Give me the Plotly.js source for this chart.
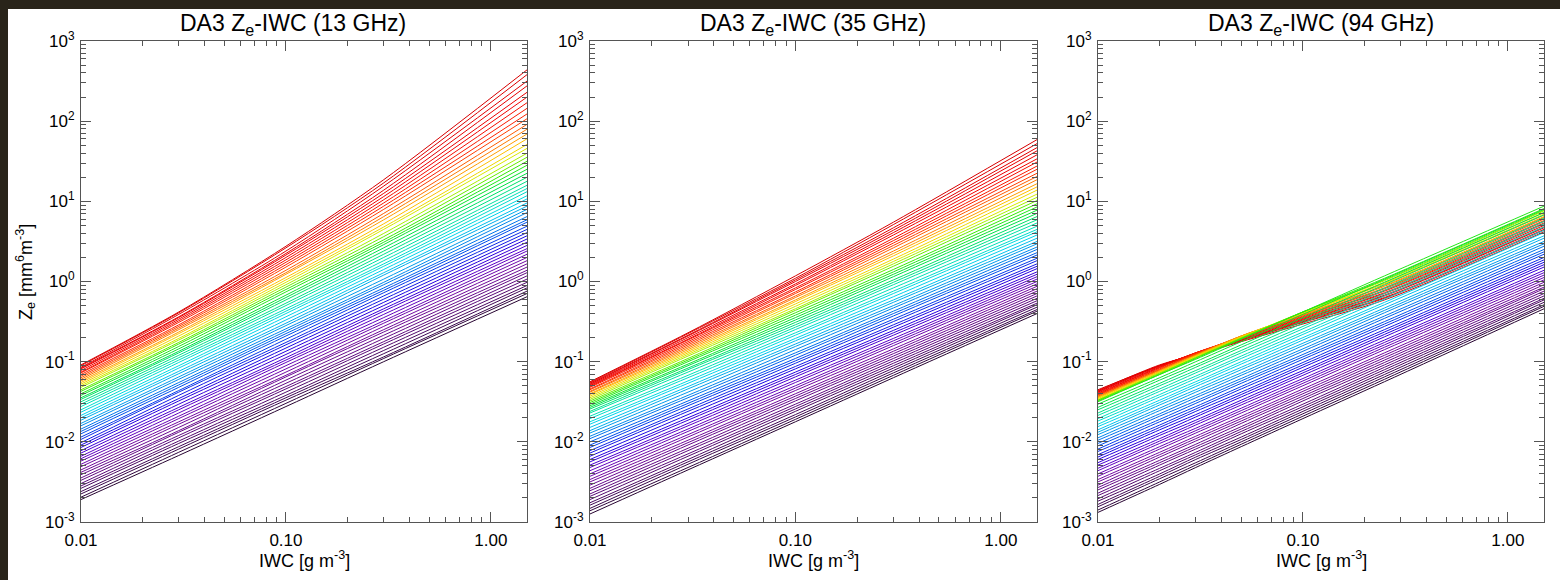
<!DOCTYPE html>
<html><head><meta charset="utf-8">
<script src="https://cdn.plot.ly/plotly-3.0.1.min.js"></script>
<style>
html,body{margin:0;padding:0;background:#29241a;width:1560px;height:580px;overflow:hidden}
#chart{position:absolute;left:8px;top:9px;width:1552px;height:571px;background:#fff}
</style></head><body><div id="chart"></div>
<script>
// IWC nodes [g m-3] at which each curve was read
const iwcNodes = [0.01, 0.03, 0.1, 0.3, 1.5];          // 13 and 35 GHz
const iwcNodes94 = [0.01, 0.02, 0.03, 0.05, 0.1, 0.25, 1.5]; // 94 GHz
const panelTitles = ['DA3 Z<sub>e</sub>-IWC (13 GHz)', 'DA3 Z<sub>e</sub>-IWC (35 GHz)', 'DA3 Z<sub>e</sub>-IWC (94 GHz)'];
const xTickVals = [0.01, 0.1, 1];
const xTickText = ['0.01', '0.10', '1.00'];
const yTickVals = [1e-3, 1e-2, 1e-1, 1, 10, 100, 1000];
const yTickText = ['10<sup>-3</sup>', '10<sup>-2</sup>', '10<sup>-1</sup>', '10<sup>0</sup>', '10<sup>1</sup>', '10<sup>2</sup>', '10<sup>3</sup>'];
const xTitle = 'IWC [g m<sup>-3</sup>]';
const yTitle = 'Z<sub>e</sub> [mm<sup>6</sup>m<sup>-3</sup>]';

// log10(Ze) of each curve (bottom/dark -> top/red), per IWC node
// 13 GHz
const ze13_at001 = [-2.72,-2.69,-2.65,-2.62,-2.58,-2.55,-2.52,-2.48,-2.45,-2.41,-2.38,-2.35,-2.31,-2.28,-2.24,-2.21,-2.18,-2.14,-2.11,-2.07,-2.04,-2.01,-1.97,-1.94,-1.90,-1.87,-1.84,-1.80,-1.77,-1.73,-1.70,-1.67,-1.63,-1.60,-1.56,-1.53,-1.50,-1.47,-1.45,-1.42,-1.40,-1.37,-1.35,-1.32,-1.30,-1.28,-1.26,-1.24,-1.22,-1.20,-1.18,-1.16,-1.14,-1.13,-1.11,-1.09,-1.08,-1.07,-1.05,-1.04];
const ze13_at003 = [-2.17,-2.13,-2.09,-2.06,-2.02,-1.99,-1.95,-1.92,-1.88,-1.86,-1.82,-1.78,-1.75,-1.71,-1.68,-1.64,-1.60,-1.57,-1.53,-1.49,-1.46,-1.42,-1.38,-1.36,-1.32,-1.29,-1.26,-1.22,-1.19,-1.15,-1.12,-1.08,-1.05,-1.01,-0.98,-0.95,-0.92,-0.89,-0.87,-0.84,-0.81,-0.78,-0.76,-0.73,-0.71,-0.68,-0.65,-0.63,-0.60,-0.58,-0.56,-0.54,-0.51,-0.49,-0.47,-0.45,-0.44,-0.41,-0.39,-0.38];
const ze13_at01 = [-1.56,-1.52,-1.48,-1.45,-1.42,-1.38,-1.34,-1.31,-1.27,-1.23,-1.19,-1.17,-1.13,-1.09,-1.05,-1.01,-0.98,-0.95,-0.91,-0.87,-0.83,-0.79,-0.76,-0.72,-0.68,-0.65,-0.62,-0.59,-0.55,-0.52,-0.48,-0.44,-0.40,-0.37,-0.34,-0.30,-0.27,-0.23,-0.20,-0.17,-0.13,-0.10,-0.07,-0.04,-0.01,0.02,0.05,0.09,0.11,0.14,0.18,0.21,0.24,0.27,0.30,0.33,0.35,0.38,0.42,0.44];
const ze13_at03 = [-1.00,-0.96,-0.94,-0.90,-0.86,-0.82,-0.78,-0.75,-0.71,-0.67,-0.63,-0.60,-0.56,-0.52,-0.49,-0.45,-0.41,-0.37,-0.34,-0.30,-0.26,-0.22,-0.18,-0.14,-0.11,-0.08,-0.04,-0.01,0.03,0.08,0.11,0.15,0.19,0.22,0.26,0.30,0.34,0.38,0.42,0.46,0.49,0.52,0.56,0.60,0.65,0.68,0.72,0.77,0.81,0.85,0.90,0.94,0.98,1.02,1.06,1.10,1.14,1.19,1.23,1.27];
const ze13_at15 = [-0.19,-0.15,-0.12,-0.08,-0.05,-0.01,0.03,0.07,0.11,0.14,0.18,0.22,0.26,0.30,0.34,0.38,0.41,0.45,0.49,0.53,0.57,0.61,0.65,0.69,0.74,0.77,0.81,0.86,0.90,0.94,0.98,1.03,1.07,1.12,1.16,1.20,1.25,1.30,1.35,1.40,1.45,1.50,1.55,1.60,1.66,1.71,1.78,1.84,1.90,1.96,2.03,2.09,2.16,2.23,2.30,2.36,2.44,2.50,2.58,2.64];
// 35 GHz
const ze35_at001 = [-2.90,-2.86,-2.83,-2.79,-2.76,-2.72,-2.68,-2.65,-2.61,-2.58,-2.54,-2.50,-2.47,-2.43,-2.40,-2.36,-2.32,-2.29,-2.25,-2.22,-2.18,-2.14,-2.11,-2.07,-2.04,-2.00,-1.96,-1.93,-1.89,-1.86,-1.82,-1.78,-1.75,-1.71,-1.68,-1.64,-1.62,-1.59,-1.57,-1.55,-1.53,-1.51,-1.49,-1.47,-1.45,-1.43,-1.41,-1.40,-1.38,-1.37,-1.35,-1.34,-1.32,-1.31,-1.30,-1.29,-1.28,-1.27,-1.26,-1.25];
const ze35_at003 = [-2.35,-2.32,-2.28,-2.25,-2.22,-2.18,-2.15,-2.11,-2.08,-2.04,-2.01,-1.98,-1.94,-1.91,-1.87,-1.84,-1.80,-1.77,-1.73,-1.70,-1.66,-1.62,-1.59,-1.55,-1.52,-1.49,-1.45,-1.42,-1.38,-1.34,-1.31,-1.27,-1.24,-1.20,-1.17,-1.13,-1.10,-1.08,-1.05,-1.03,-1.00,-0.98,-0.96,-0.93,-0.91,-0.89,-0.87,-0.85,-0.83,-0.81,-0.79,-0.77,-0.75,-0.73,-0.72,-0.70,-0.68,-0.67,-0.65,-0.64];
const ze35_at01 = [-1.75,-1.72,-1.69,-1.66,-1.62,-1.59,-1.56,-1.53,-1.49,-1.46,-1.43,-1.40,-1.36,-1.33,-1.30,-1.26,-1.23,-1.19,-1.16,-1.13,-1.09,-1.06,-1.02,-0.99,-0.96,-0.92,-0.89,-0.85,-0.81,-0.78,-0.74,-0.71,-0.67,-0.64,-0.60,-0.57,-0.54,-0.51,-0.48,-0.45,-0.42,-0.39,-0.36,-0.34,-0.31,-0.28,-0.25,-0.23,-0.20,-0.18,-0.15,-0.13,-0.10,-0.08,-0.05,-0.03,0.00,0.02,0.04,0.07];
const ze35_at03 = [-1.20,-1.17,-1.14,-1.11,-1.08,-1.05,-1.02,-0.99,-0.96,-0.93,-0.90,-0.87,-0.84,-0.80,-0.77,-0.74,-0.71,-0.67,-0.64,-0.61,-0.57,-0.54,-0.50,-0.47,-0.43,-0.40,-0.37,-0.33,-0.30,-0.26,-0.23,-0.19,-0.15,-0.12,-0.08,-0.04,-0.01,0.02,0.06,0.09,0.12,0.15,0.19,0.22,0.25,0.28,0.32,0.35,0.38,0.42,0.45,0.48,0.51,0.54,0.58,0.61,0.64,0.67,0.71,0.74];
const ze35_at15 = [-0.40,-0.37,-0.35,-0.32,-0.29,-0.27,-0.24,-0.21,-0.18,-0.15,-0.12,-0.09,-0.06,-0.03,0.00,0.03,0.06,0.09,0.12,0.16,0.19,0.22,0.26,0.29,0.33,0.36,0.40,0.43,0.47,0.50,0.54,0.58,0.62,0.65,0.69,0.73,0.77,0.81,0.85,0.89,0.93,0.97,1.01,1.05,1.09,1.14,1.18,1.22,1.27,1.31,1.35,1.40,1.44,1.49,1.53,1.58,1.63,1.67,1.72,1.77];
// 94 GHz
const ze94_at001 = [-2.88,-2.85,-2.81,-2.78,-2.74,-2.71,-2.67,-2.64,-2.60,-2.57,-2.54,-2.50,-2.47,-2.43,-2.40,-2.36,-2.33,-2.29,-2.26,-2.22,-2.19,-2.16,-2.12,-2.09,-2.05,-2.02,-1.98,-1.95,-1.91,-1.88,-1.85,-1.81,-1.78,-1.74,-1.71,-1.67,-1.64,-1.60,-1.57,-1.53,-1.50,-1.49,-1.48,-1.48,-1.47,-1.46,-1.45,-1.44,-1.44,-1.43,-1.42,-1.41,-1.41,-1.40,-1.39,-1.38,-1.37,-1.37,-1.36,-1.35];
const ze94_at002 = [-2.53,-2.50,-2.46,-2.43,-2.40,-2.36,-2.33,-2.29,-2.26,-2.23,-2.19,-2.16,-2.13,-2.09,-2.06,-2.02,-1.99,-1.96,-1.92,-1.89,-1.85,-1.82,-1.79,-1.75,-1.72,-1.68,-1.65,-1.61,-1.58,-1.54,-1.51,-1.48,-1.44,-1.41,-1.37,-1.34,-1.30,-1.27,-1.23,-1.20,-1.16,-1.16,-1.15,-1.14,-1.14,-1.13,-1.12,-1.12,-1.11,-1.10,-1.10,-1.09,-1.08,-1.07,-1.07,-1.06,-1.05,-1.05,-1.04,-1.05];
const ze94_at003 = [-2.32,-2.29,-2.26,-2.22,-2.19,-2.16,-2.13,-2.09,-2.06,-2.03,-1.99,-1.96,-1.93,-1.89,-1.86,-1.83,-1.79,-1.76,-1.73,-1.69,-1.66,-1.62,-1.59,-1.56,-1.52,-1.49,-1.45,-1.42,-1.38,-1.35,-1.31,-1.28,-1.25,-1.21,-1.18,-1.14,-1.11,-1.07,-1.04,-1.00,-0.97,-0.96,-0.95,-0.95,-0.94,-0.93,-0.93,-0.92,-0.92,-0.91,-0.90,-0.90,-0.89,-0.89,-0.89,-0.89,-0.90,-0.90,-0.91,-0.92];
const ze94_at005 = [-2.06,-2.03,-2.00,-1.97,-1.94,-1.90,-1.87,-1.84,-1.81,-1.77,-1.74,-1.71,-1.68,-1.64,-1.61,-1.58,-1.54,-1.51,-1.48,-1.44,-1.41,-1.38,-1.34,-1.31,-1.27,-1.24,-1.21,-1.17,-1.14,-1.10,-1.07,-1.03,-1.00,-0.96,-0.93,-0.89,-0.86,-0.82,-0.79,-0.75,-0.72,-0.71,-0.71,-0.70,-0.70,-0.69,-0.69,-0.68,-0.68,-0.68,-0.69,-0.69,-0.70,-0.70,-0.71,-0.72,-0.73,-0.73,-0.74,-0.75];
const ze94_at01 = [-1.71,-1.68,-1.65,-1.62,-1.59,-1.56,-1.53,-1.49,-1.46,-1.43,-1.40,-1.37,-1.34,-1.30,-1.27,-1.24,-1.21,-1.17,-1.14,-1.11,-1.07,-1.04,-1.01,-0.97,-0.94,-0.91,-0.87,-0.84,-0.80,-0.77,-0.73,-0.70,-0.66,-0.63,-0.59,-0.56,-0.52,-0.49,-0.45,-0.41,-0.38,-0.38,-0.38,-0.38,-0.39,-0.39,-0.40,-0.41,-0.41,-0.42,-0.43,-0.44,-0.45,-0.46,-0.47,-0.48,-0.49,-0.50,-0.51,-0.53];
const ze94_at025 = [-1.25,-1.22,-1.19,-1.16,-1.13,-1.10,-1.07,-1.04,-1.01,-0.98,-0.95,-0.92,-0.89,-0.85,-0.82,-0.79,-0.76,-0.73,-0.69,-0.66,-0.63,-0.60,-0.56,-0.53,-0.50,-0.46,-0.43,-0.39,-0.36,-0.33,-0.29,-0.26,-0.22,-0.18,-0.15,-0.11,-0.08,-0.04,-0.01,0.03,0.07,0.04,0.02,0.01,-0.01,-0.02,-0.03,-0.05,-0.06,-0.08,-0.09,-0.11,-0.12,-0.14,-0.15,-0.17,-0.18,-0.20,-0.21,-0.23];
const ze94_at15 = [-0.34,-0.31,-0.29,-0.26,-0.23,-0.21,-0.18,-0.15,-0.12,-0.09,-0.07,-0.04,-0.01,0.02,0.05,0.08,0.11,0.14,0.18,0.21,0.24,0.27,0.30,0.34,0.37,0.40,0.44,0.47,0.50,0.54,0.57,0.61,0.64,0.68,0.72,0.75,0.79,0.83,0.86,0.90,0.94,0.91,0.89,0.88,0.86,0.84,0.83,0.81,0.80,0.78,0.76,0.75,0.73,0.72,0.70,0.68,0.67,0.65,0.64,0.62];

const panels = [
  { nodes: iwcNodes,   cols: [ze13_at001, ze13_at003, ze13_at01, ze13_at03, ze13_at15] },
  { nodes: iwcNodes,   cols: [ze35_at001, ze35_at003, ze35_at01, ze35_at03, ze35_at15] },
  { nodes: iwcNodes94, cols: [ze94_at001, ze94_at002, ze94_at003, ze94_at005, ze94_at01, ze94_at025, ze94_at15] }
];

// rainbow colour table (dark purple -> red)
const stops = [
  [0.00,[40,5,50]],[0.10,[90,10,120]],[0.20,[115,10,160]],[0.27,[90,0,200]],
  [0.33,[30,0,225]],[0.40,[0,70,235]],[0.47,[0,150,235]],[0.53,[0,215,235]],
  [0.59,[0,225,170]],[0.65,[0,225,60]],[0.70,[60,235,0]],[0.74,[210,240,0]],
  [0.775,[255,200,0]],[0.815,[255,120,0]],[0.86,[255,40,0]],[0.92,[240,0,0]],[1.00,[215,0,0]]
];
function rainbow(t){
  for(let i=1;i<stops.length;i++){
    if(t<=stops[i][0]){
      const a=stops[i-1], b=stops[i], f=(t-a[0])/(b[0]-a[0]);
      const c=a[1].map((v,j)=>Math.round(v+(b[1][j]-v)*f));
      return 'rgb('+c.join(',')+')';
    }
  }
  return 'rgb(215,0,0)';
}

// curves are drawn from the top (red) curve down to the bottom (dark) curve
const traces = [];
panels.forEach((panel, p) => {
  const cols = panel.cols;
  const n = cols[0].length;
  for (let k = n - 1; k >= 0; k--) {
    traces.push({
      type: 'scatter', mode: 'lines',
      x: panel.nodes,
      y: cols.map(c => Math.pow(10, c[k])),
      xaxis: p === 0 ? 'x' : 'x' + (p + 1),
      yaxis: p === 0 ? 'y' : 'y' + (p + 1),
      line: { color: rainbow(k / (n - 1)), width: 1, shape: 'spline', smoothing: 0.8 },
      hoverinfo: 'skip', showlegend: false
    });
  }
});

const FONT = 'Liberation Sans, Arial, Helvetica, sans-serif';
const AX = '#555';
const xMinor = [0.02,0.03,0.04,0.05,0.06,0.07,0.08,0.09,0.2,0.3,0.4,0.5,0.6,0.7,0.8,0.9];
const yMinor = [];
for (let d = -3; d < 3; d++) for (let m = 2; m <= 9; m++) yMinor.push(m * Math.pow(10, d));

const W = 1552, H = 571;
const xDomains = [[73/W, 519/W], [582/W, 1029/W], [1090/W, 1536/W]];
const yDomain = [1 - 513/H, 1 - 32/H];
const titleX = [285/W, 805/W, 1313/W];

function xAxis(i){
  return {
    type: 'log', domain: xDomains[i], anchor: i === 0 ? 'y' : 'y' + (i + 1),
    range: [-2, Math.log10(1.5)],
    tickmode: 'array', tickvals: xTickVals, ticktext: xTickText,
    ticks: 'inside', ticklen: 10, tickwidth: 1, tickcolor: AX,
    showline: true, linecolor: AX, linewidth: 1, mirror: 'allticks',
    showgrid: false, zeroline: false, ticklabelstandoff: 3,
    tickfont: { family: FONT, size: 17, color: '#000' },
    minor: { tickmode: 'array', tickvals: xMinor, ticks: 'inside', ticklen: 5, tickwidth: 1, tickcolor: AX, showgrid: false },
    fixedrange: true
  };
}
function yAxis(i){
  return {
    type: 'log', domain: yDomain, anchor: i === 0 ? 'x' : 'x' + (i + 1),
    range: [-3, 3],
    tickmode: 'array', tickvals: yTickVals, ticktext: yTickText,
    ticks: 'inside', ticklen: 10, tickwidth: 1, tickcolor: AX,
    showline: true, linecolor: AX, linewidth: 1, mirror: 'allticks',
    showgrid: false, zeroline: false, ticklabelstandoff: 2,
    tickfont: { family: FONT, size: 17, color: '#000' },
    minor: { tickmode: 'array', tickvals: yMinor, ticks: 'inside', ticklen: 5, tickwidth: 1, tickcolor: AX, showgrid: false },
    fixedrange: true
  };
}

const annotations = [];
xDomains.forEach((d, i) => {
  const cx = (d[0] + d[1]) / 2;
  annotations.push({ xref: 'paper', yref: 'paper', x: titleX[i], y: 1 - 15/H, xanchor: 'center', yanchor: 'middle',
    text: panelTitles[i], showarrow: false, font: { family: FONT, size: 23, color: '#000' } });
  annotations.push({ xref: 'paper', yref: 'paper', x: cx, y: 1 - 550/H, xanchor: 'center', yanchor: 'middle',
    text: xTitle, showarrow: false, font: { family: FONT, size: 18, color: '#000' } });
});
annotations.push({ xref: 'paper', yref: 'paper', x: 17/W, y: 1 - 263/H, xanchor: 'center', yanchor: 'middle',
  textangle: -90, text: yTitle, showarrow: false, font: { family: FONT, size: 18, color: '#000' } });

const layout = {
  width: W, height: H, margin: { l: 0, r: 0, t: 0, b: 0 },
  paper_bgcolor: '#ffffff', plot_bgcolor: '#ffffff', showlegend: false,
  xaxis: xAxis(0), xaxis2: xAxis(1), xaxis3: xAxis(2),
  yaxis: yAxis(0), yaxis2: yAxis(1), yaxis3: yAxis(2),
  annotations: annotations
};

Plotly.newPlot('chart', traces, layout, { staticPlot: true, displayModeBar: false });
</script></body></html>
